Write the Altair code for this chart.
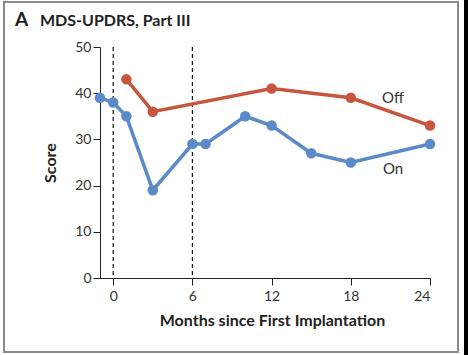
import altair as alt
import pandas as pd

on_months = [-1, 0, 1, 3, 6, 7, 10, 12, 15, 18, 24]
on_scores = [39, 38, 35, 19, 29, 29, 35, 33, 27, 25, 29]
off_months = [1, 3, 12, 18, 24]
off_scores = [43, 36, 41, 39, 33]
x_ticks = [0, 6, 12, 18, 24]
y_ticks = [0, 10, 20, 30, 40, 50]
dash_months = [0, 6]
label_text = ["Off", "On"]
label_month = [21.2, 21.2]
label_score = [39.0, 23.6]

RED = "#C8553D"
BLUE = "#5B8AC8"
FONT = "Lato"

df = pd.DataFrame({
    "month": on_months + off_months,
    "score": on_scores + off_scores,
    "cond": ["On"] * len(on_months) + ["Off"] * len(off_months),
})
dash_df = pd.DataFrame({"month": dash_months})
lab_df = pd.DataFrame({"month": label_month, "score": label_score, "text": label_text})

W, H = 330, 231

xs = alt.Scale(domain=[-1, 24], nice=False, zero=False)
ys = alt.Scale(domain=[0, 50], nice=False)

xaxis = alt.Axis(values=x_ticks, title="Months since First Implantation", grid=False,
                 domainColor="#222", tickColor="#222", tickSize=7, labelPadding=4,
                 labelFont=FONT, labelFontSize=14, labelColor="#333",
                 titleFont=FONT, titleFontSize=16, titleFontWeight="bold", titleColor="#222",
                 titlePadding=9, titleX=172)
yaxis = alt.Axis(values=y_ticks, title="Score", grid=False,
                 domainColor="#222", tickColor="#222", tickSize=7, labelPadding=2,
                 labelFont=FONT, labelFontSize=14, labelColor="#333",
                 titleFont=FONT, titleFontSize=16, titleFontWeight="bold", titleColor="#222",
                 titlePadding=16)

base = alt.Chart(df)
color = alt.Color("cond:N", scale=alt.Scale(domain=["On", "Off"], range=[BLUE, RED]), legend=None)

lines = base.mark_line(strokeWidth=3.5).encode(
    x=alt.X("month:Q", scale=xs, axis=xaxis),
    y=alt.Y("score:Q", scale=ys, axis=yaxis),
    color=color, detail="cond:N")
pts = base.mark_circle(size=110, opacity=1).encode(
    x=alt.X("month:Q", scale=xs), y=alt.Y("score:Q", scale=ys), color=color)

dashes = alt.Chart(dash_df).mark_rule(color="#111", strokeWidth=1.2, strokeDash=[4, 3]).encode(
    x=alt.X("month:Q", scale=xs), y=alt.value(0), y2=alt.value(H))

labels = alt.Chart(lab_df).mark_text(font=FONT, fontSize=15, color="#333", align="center",
                                     baseline="middle").encode(
    x=alt.X("month:Q", scale=xs), y=alt.Y("score:Q", scale=ys), text="text:N")

title_a = alt.Chart(pd.DataFrame({"t": ["A"]})).mark_text(
    font=FONT, fontSize=19, fontWeight="bold", color="#222", align="left", baseline="alphabetic").encode(
    x=alt.value(-85), y=alt.value(-21), text="t:N")
title_b = alt.Chart(pd.DataFrame({"t": ["MDS-UPDRS, Part III"]})).mark_text(
    font=FONT, fontSize=16, fontWeight="bold", color="#222", align="left", baseline="alphabetic").encode(
    x=alt.value(-60), y=alt.value(-21), text="t:N")

frame = alt.Chart(pd.DataFrame({"a": [0]})).mark_rect(fill=None, stroke="#8a8a8a", strokeWidth=2).encode(
    x=alt.value(-96), x2=alt.value(358), y=alt.value(-45), y2=alt.value(305))
strip = alt.Chart(pd.DataFrame({"a": [0]})).mark_rect(fill="#000", stroke=None).encode(
    x=alt.value(364), x2=alt.value(372), y=alt.value(-50), y2=alt.value(312))

chart = alt.layer(frame, strip, dashes, lines, pts, labels, title_a, title_b).properties(
    width=W, height=H,
    autosize=alt.AutoSizeParams(type="none"),
    padding={"left": 100, "top": 47, "right": 38, "bottom": 77},
    background="white",
).configure_view(stroke=None)

chart.save("out.html", embed_options={"renderer": "svg", "actions": False})
